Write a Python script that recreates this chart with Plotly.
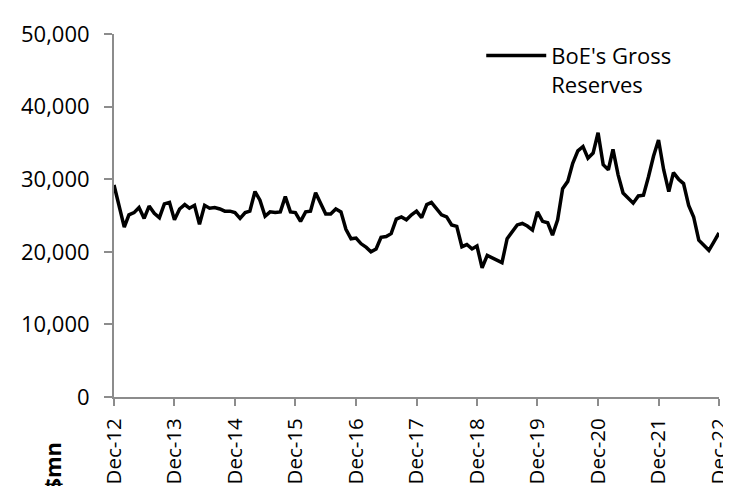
import plotly.graph_objects as go
import pandas as pd

months = pd.date_range("2012-12-01", periods=121, freq="MS")
reserves = [
    29200, 26200, 23400, 25100, 25400, 26100, 24600, 26300, 25300, 24700, 26600, 26800,
    24400, 25900, 26500, 26000, 26400, 23800, 26400, 26000, 26100, 25900, 25600, 25600,
    25400, 24600, 25400, 25600, 28300, 27100, 24900, 25500, 25400, 25500, 27600, 25500,
    25400, 24200, 25500, 25600, 28150, 26700, 25200, 25200, 25900, 25500, 23100, 21800,
    21900, 21100, 20600, 20000, 20400, 22000, 22100, 22500, 24500, 24800, 24400, 25100,
    25600, 24700, 26500, 26800, 26000, 25100, 24800, 23700, 23500, 20700, 21000, 20400,
    20800, 17800, 19500, 19200, 18800, 18500, 21800, 22700, 23700, 23900, 23550, 23000,
    25500, 24200, 24000, 22300, 24400, 28700, 29700, 32200, 33900, 34500, 32900, 33600,
    36400, 32000, 31300, 34100, 30600, 28100, 27400, 26700, 27700, 27800, 30300, 33200,
    35400, 31300, 28300, 30900, 30000, 29400, 26400, 24800, 21600, 20800, 20200, 21400,
    22600,
]
tick_vals = [pd.Timestamp(f"{y}-12-01") for y in range(2012, 2023)]
tick_text = [f"Dec-{str(y)[2:]}" for y in range(2012, 2023)]
y_ticks = [0, 10000, 20000, 30000, 40000, 50000]

FONT = "Open Sans"
FS = 22
AXIS = "#8c8c8c"

fig = go.Figure()
fig.add_trace(go.Scatter(
    x=months, y=reserves, mode="lines",
    line=dict(color="black", width=3.5),
    name="BoE's Gross<br>Reserves",
))
fig.update_layout(
    width=731, height=486,
    margin=dict(l=106, r=20, t=26, b=97, autoexpand=False),
    paper_bgcolor="white", plot_bgcolor="white",
    font=dict(family=FONT, size=FS, color="black"),
    showlegend=True,
    legend=dict(x=0.607, y=0.998, xanchor="left", yanchor="top",
                bgcolor="rgba(0,0,0,0)", valign="top", itemwidth=60,
                font=dict(family=FONT, size=FS, color="black")),
    xaxis=dict(
        range=[tick_vals[0], tick_vals[-1]],
        tickmode="array", tickvals=tick_vals, ticktext=tick_text,
        tickangle=-90, showgrid=False, zeroline=False,
        showline=True, linecolor=AXIS, linewidth=2,
        ticks="outside", tickcolor=AXIS, ticklen=7, tickwidth=2,
        ticklabelstandoff=4,
        tickfont=dict(family=FONT, size=20.5),
    ),
    yaxis=dict(
        range=[0, 50000], tickvals=y_ticks,
        tickformat=",d", showgrid=False, zeroline=False,
        showline=True, linecolor=AXIS, linewidth=2,
        ticks="outside", tickcolor=AXIS, ticklen=8, tickwidth=2,
        ticklabelstandoff=10,
        tickfont=dict(family=FONT, size=FS),
    ),
    annotations=[dict(
        text="<b>$mn</b>", xref="paper", yref="paper",
        x=-0.102, y=-0.118, xanchor="center", yanchor="top",
        textangle=-90, showarrow=False,
        font=dict(family=FONT, size=FS, color="black"),
    )],
)
fig.write_html("out.html")
